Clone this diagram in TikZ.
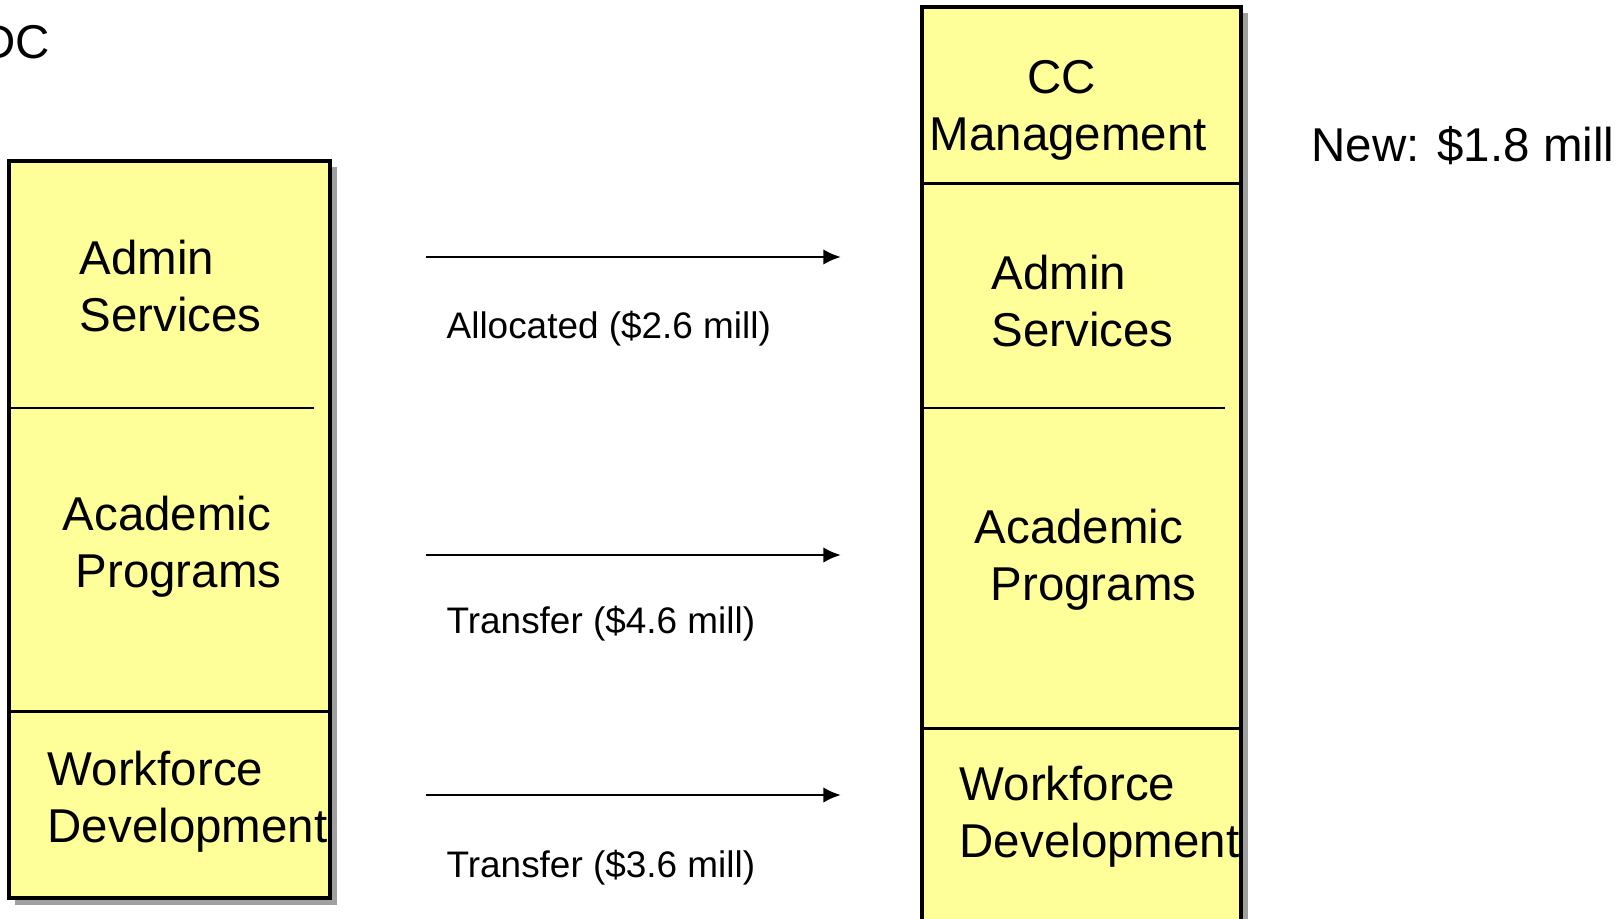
\documentclass[tikz,border=0pt]{standalone}
\usepackage{fontspec}
\setmainfont{Liberation Sans}
\usetikzlibrary{arrows.meta}

\definecolor{boxyellow}{HTML}{FFFF99}
\definecolor{shadegray}{HTML}{A0A0A0}

\tikzset{
  box/.style={fill=boxyellow, draw=black, line width=0.95pt},
  rule/.style={draw=black, line width=0.85pt},
  shade/.style={fill=shadegray},
  big/.style={anchor=base west, inner sep=0pt, font=\fontsize{13.5}{16}\selectfont},
  small/.style={anchor=base west, inner sep=0pt, font=\fontsize{10.5}{12.6}\selectfont},
  flow/.style={line width=0.75pt, -{Latex[length=5pt,width=4.4pt]}}
}

\begin{document}
\begin{tikzpicture}[x=0.01cm, y=-0.01cm]
   \useasboundingbox (0,0) rectangle (1624,918);
   \clip (0,0) rectangle (1624,918);

   \node[big] (dc) at (-19,58) {DC};

   % linke Saeule
   \fill[shade] (15,167) rectangle (337,905);
   \draw[box] (9,161) rectangle (330,898);
   \draw[rule] (9,408) -- (314,408);
   \draw[rule] (9,711.5) -- (330,711.5);

   \node[big] (admL1) at (79,274) {Admin};
   \node[big] (admL2) at (79,331) {Services};
   \node[big] (acaL1) at (62,530) {Academic};
   \node[big] (acaL2) at (75,587) {Programs};
   \node[big] (wfdL1) at (47,785) {Workforce};
   \node[big] (wfdL2) at (47,842) {Development};

   % rechte Saeule
   \fill[shade] (928,13) rectangle (1248,940);
   \draw[box] (922,7) rectangle (1241,940);
   \draw[rule] (922,183.5) -- (1241,183.5);
   \draw[rule] (922,408) -- (1225,408);
   \draw[rule] (922,728) -- (1241,728);

   \node[big] (ccR1) at (1027,93) {CC};
   \node[big] (ccR2) at (929,150) {Management};
   \node[big] (admR1) at (991,289) {Admin};
   \node[big] (admR2) at (991,346) {Services};
   \node[big] (acaR1) at (974,543) {Academic};
   \node[big] (acaR2) at (990,600) {Programs};
   \node[big] (wfdR1) at (959,800) {Workforce};
   \node[big] (wfdR2) at (959,857) {Development};

   \node[big] (new) at (1311,161) {New: \$1.8 mill};

   % Pfeile
   \coordinate (p1a) at (426,257);
   \coordinate (p1b) at (841,257);
   \coordinate (p2a) at (426,555);
   \coordinate (p2b) at (841,555);
   \coordinate (p3a) at (426,795);
   \coordinate (p3b) at (841,795);
   \draw[flow] (p1a) -- (p1b);
   \draw[flow] (p2a) -- (p2b);
   \draw[flow] (p3a) -- (p3b);

   \node[small] (alloc) at (446,338) {Allocated (\$2.6 mill)};
   \node[small] (trans1) at (446,633) {Transfer (\$4.6 mill)};
   \node[small] (trans2) at (446,877) {Transfer (\$3.6 mill)};
\end{tikzpicture}
\end{document}
